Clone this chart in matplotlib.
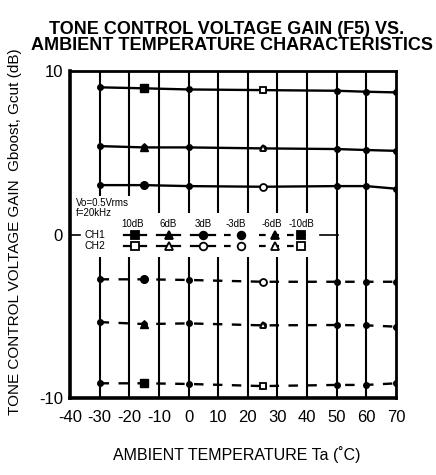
import matplotlib
matplotlib.use("Agg")
import matplotlib.pyplot as plt

plt.rcParams['font.family'] = ['Liberation Sans', 'DejaVu Sans']
plt.rcParams['axes.unicode_minus'] = False

# ---- data ----
temps = [-30, -15, 0, 25, 50, 60, 70]
gain_10db = [9.03, 8.97, 8.90, 8.86, 8.82, 8.76, 8.72]
gain_6db = [5.43, 5.35, 5.35, 5.29, 5.25, 5.19, 5.14]
gain_3db = [3.04, 3.04, 2.98, 2.94, 2.98, 2.98, 2.82]
gain_m3db = [-2.73, -2.73, -2.77, -2.88, -2.88, -2.88, -2.88]
gain_m6db = [-5.35, -5.47, -5.43, -5.55, -5.53, -5.55, -5.63]
gain_m10db = [-9.10, -9.10, -9.14, -9.27, -9.20, -9.20, -9.10]
series_labels = ['10dB', '6dB', '3dB', '-3dB', '-6dB', '-10dB']
series_values = [gain_10db, gain_6db, gain_3db, gain_m3db, gain_m6db, gain_m10db]
series_markers = ['s', '^', 'o', 'o', '^', 's']
x_ticks = [-40, -30, -20, -10, 0, 10, 20, 30, 40, 50, 60, 70]
y_ticks = [-10, 0, 10]

W, H = 436, 475
fig = plt.figure(figsize=(W / 100, H / 100), dpi=100)
L, R, T, B = 70, 396, 71.5, 398
ax = fig.add_axes([L / W, 1 - B / H, (R - L) / W, (B - T) / H])
ax.set_xlim(-40, 70)
ax.set_ylim(-10, 10)

def ax_x(px):
    return (px - L) / (R - L)

def ax_y(py):
    return (B - py) / (B - T)

def dat_y(py):
    return -10 + 20 * ax_y(py)

# vertical grid lines (thin filled strips), interrupted by the legend block
gx = x_ticks[1:-1]
for x in gx:
    if x < -15:
        spans = [(-10, dat_y(257)), (dat_y(196), 10)]
    elif x < 45:
        spans = [(-10, dat_y(257)), (dat_y(213), 10)]
    else:
        spans = [(-10, 10)]
    for y0, y1 in spans:
        ax.bar([x], [y1 - y0], bottom=y0, width=0.55, color='black', linewidth=0, zorder=1)
        ax.vlines([x], y0, y1, colors='black', linewidths=1.5, zorder=1.5)
ax.axhline(0, xmin=ax_x(320), xmax=ax_x(338), color='black', lw=1.2, zorder=1)

# data lines
for lab, vals, mk in zip(series_labels, series_values, series_markers):
    ls = '-' if not lab.startswith('-') else (0, (4, 4))
    ax.plot(temps, vals, color='black', lw=1.7, ls=ls, marker='o', ms=4,
            mfc='black', mec='black', zorder=3)
    ax.plot([temps[1]], [vals[1]], marker=mk, ms=5.5, color='black', ls='none', zorder=4)
    ax.plot([temps[3]], [vals[3]], marker=mk, ms=5, mfc='white', mec='black',
            mew=1.3, ls='none', zorder=4)

# legend block (manual)
tr = ax.transAxes
ax.text(ax_x(76), ax_y(203), 'Vo=0.5Vrms', transform=tr, fontsize=7, va='center', ha='left', zorder=5)
ax.text(ax_x(76), ax_y(213), 'f=20kHz', transform=tr, fontsize=7, va='center', ha='left', zorder=5)
ax.text(ax_x(84), ax_y(235), 'CH1', transform=tr, fontsize=7.5, va='center', ha='left', zorder=5)
ax.text(ax_x(84), ax_y(246), 'CH2', transform=tr, fontsize=7.5, va='center', ha='left', zorder=5)
ax.plot([0, ax_x(80)], [ax_y(235), ax_y(235)], transform=tr, color='black', lw=1.2, zorder=5)
head_x = [133, 168, 203, 236, 272, 301]
seg = [(124, 146), (157, 180), (191, 215), (224, 246), (259, 280), (287, 306)]
for lab, mk, hx, (s0, s1) in zip(series_labels, series_markers, head_x, seg):
    ax.text(ax_x(hx), ax_y(224), lab, transform=tr, fontsize=7, va='center', ha='center', zorder=5)
    ls = '-' if not lab.startswith('-') else (0, (3, 3))
    for py, filled in ((235, True), (246, False)):
        ax.plot([ax_x(s0), ax_x(s1)], [ax_y(py), ax_y(py)], transform=tr, color='black',
                lw=1.6, ls=ls, zorder=5, clip_on=False)
        mx = (s0 + s1) / 2 if not lab.startswith('-') else s1 - 5
        ax.plot([ax_x(mx)], [ax_y(py)], transform=tr, marker=mk, ms=5.5,
                mfc='black' if filled else 'white', mec='black', mew=1.3, zorder=6, clip_on=False)

# axes styling
ax.set_xlim(-40, 70)
ax.set_ylim(-10, 10)
ax.set_xticks(x_ticks)
ax.set_xticklabels([str(v) for v in x_ticks])
ax.set_yticks(y_ticks)
ax.set_yticklabels([str(v) for v in y_ticks])
ax.tick_params(axis='x', length=0, pad=9, labelsize=12)
ax.tick_params(axis='y', length=0, pad=5, labelsize=12)
for side in ['left', 'bottom']:
    ax.spines[side].set_linewidth(2.6)
for side in ['top', 'right']:
    ax.spines[side].set_linewidth(2.0)

fig.text(227 / W, 1 - 30 / H, 'TONE CONTROL VOLTAGE GAIN (F5) VS.', ha='center', va='center',
         fontsize=13, fontweight='bold')
fig.text(232 / W, 1 - 46 / H, 'AMBIENT TEMPERATURE CHARACTERISTICS', ha='center', va='center',
         fontsize=13, fontweight='bold')
fig.text(15 / W, 1 - 232 / H, 'TONE CONTROL VOLTAGE GAIN  Gboost, Gcut (dB)', rotation=90,
         ha='center', va='center', fontsize=11)
fig.text(237 / W, 1 - 455 / H, 'AMBIENT TEMPERATURE Ta (\u02daC)', ha='center', va='center',
         fontsize=11.5)

fig.savefig('out.png', dpi=100)
